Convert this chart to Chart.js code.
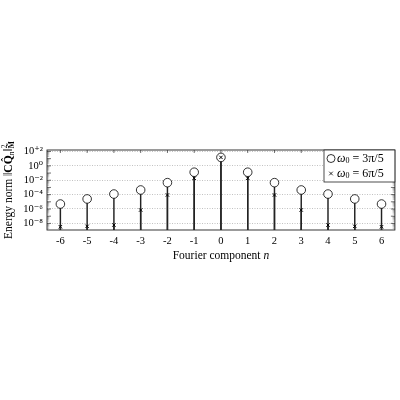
<!DOCTYPE html>
<html>
<head>
<meta charset="utf-8">
<script src="https://cdn.jsdelivr.net/npm/chart.js@4"></script>
<style>
  html, body { margin: 0; padding: 0; background: #fff; }
  #wrap { width: 400px; height: 400px; }
</style>
</head>
<body>
<div id="wrap"><canvas id="energy"></canvas></div>
<script>
// Fourier components and energy norms
var components = ['-6', '-5', '-4', '-3', '-2', '-1', '0', '1', '2', '3', '4', '5', '6'];
var energyW3 = [4.9e-6, 2.5e-5, 1.2e-4, 4.4e-4, 4.6e-3, 0.13, 15, 0.13, 4.6e-3, 4.4e-4, 1.2e-4, 2.5e-5, 4.9e-6];
var energyW6 = [3.4e-9, 3.9e-9, 5.9e-9, 7.2e-7, 8.9e-5, 0.019, 15, 0.019, 8.9e-5, 7.2e-7, 5.9e-9, 3.9e-9, 3.4e-9];
var seriesNames = ['3π/5', '6π/5'];
var yTickExponents = [2, 0, -2, -4, -6, -8];

var AXIS_MIN = 1.2e-9;
var AXIS_MAX = 1.6e2;
var F = '"Liberation Serif", "DejaVu Serif", serif';

var supMap = {'0':'⁰','1':'¹','2':'²','3':'³','4':'⁴','5':'⁵','6':'⁶','7':'⁷','8':'⁸','9':'⁹','-':'⁻','+':'⁺'};
function powLabel(e) {
    var s = (e > 0 ? '+' : '') + String(e);
    return '10' + s.split('').map(function(c){ return supMap[c]; }).join('');
}

function drawRuns(ctx, runs, x, y) {
    runs.forEach(function(r) {
        ctx.font = r.font;
        ctx.fillText(r.t, x, y + (r.dy || 0));
        if (!r.stay) x += ctx.measureText(r.t).width;
    });
}
function runsWidth(ctx, runs) {
    var w = 0;
    runs.forEach(function(r) {
        ctx.font = r.font;
        if (!r.stay) w += ctx.measureText(r.t).width;
    });
    return w;
}

// frame, inward ticks, axis titles and the legend box
var decor = {
    id: 'decor',
    afterDraw: function(chart) {
        var ctx = chart.ctx, a = chart.chartArea;
        var xs = chart.scales.x, ys = chart.scales.y;
        ctx.save();

        // minor/major log ticks on both sides
        for (var d = -10; d <= 2; d++) {
            for (var k = 1; k <= 9; k++) {
                var v = k * Math.pow(10, d);
                if (v < AXIS_MIN || v > AXIS_MAX) continue;
                var py = ys.getPixelForValue(v);
                var len = k === 1 ? 4 : 2.2;
                ctx.strokeStyle = k === 1 ? '#333' : '#aaa';
                ctx.lineWidth = 0.7;
                ctx.beginPath();
                ctx.moveTo(a.left, py); ctx.lineTo(a.left + len, py);
                ctx.moveTo(a.right, py); ctx.lineTo(a.right - len, py);
                ctx.stroke();
            }
        }
        // x ticks
        ctx.strokeStyle = '#333';
        ctx.lineWidth = 0.7;
        components.forEach(function(c, i) {
            var px = xs.getPixelForValue(i);
            ctx.beginPath();
            ctx.moveTo(px, a.bottom); ctx.lineTo(px, a.bottom - 3);
            ctx.moveTo(px, a.top); ctx.lineTo(px, a.top + 3);
            ctx.stroke();
        });

        // frame
        ctx.strokeStyle = '#222';
        ctx.lineWidth = 0.9;
        ctx.strokeRect(a.left, a.top, a.right - a.left, a.bottom - a.top);

        ctx.fillStyle = '#000';
        ctx.textBaseline = 'middle';
        ctx.textAlign = 'left';

        // x title
        var xt = [
            {t: 'Fourier component ', font: '11.5px ' + F},
            {t: 'n', font: 'italic 11.5px ' + F}
        ];
        drawRuns(ctx, xt, (a.left + a.right) / 2 - runsWidth(ctx, xt) / 2, 256);

        // y title (rotated)
        var yt = [
            {t: 'Energy norm ‖', font: '11.5px ' + F},
            {t: 'CQ̂', font: 'bold 11.5px ' + F},
            {t: 'n', font: 'italic 8px ' + F, dy: 2.5},
            {t: '‖', font: '11.5px ' + F},
            {t: '2', font: '7.5px ' + F, dy: -4, stay: true},
            {t: 'M̃', font: 'bold 7.5px ' + F, dy: 3.5}
        ];
        ctx.save();
        ctx.translate(9, (a.top + a.bottom) / 2);
        ctx.rotate(-Math.PI / 2);
        drawRuns(ctx, yt, -runsWidth(ctx, yt) / 2, 0);
        ctx.restore();

        // legend
        var lx = 324, ly = a.top, lw = a.right - lx, lh = 32;
        ctx.fillStyle = '#fff';
        ctx.fillRect(lx, ly, lw, lh);
        ctx.strokeStyle = '#222';
        ctx.lineWidth = 0.8;
        ctx.strokeRect(lx, ly, lw, lh);
        ctx.fillStyle = '#000';
        seriesNames.forEach(function(name, i) {
            var cy = ly + 8.5 + i * 15;
            var cx = lx + 7;
            ctx.strokeStyle = '#000';
            ctx.lineWidth = 0.8;
            ctx.beginPath();
            if (i === 0) {
                ctx.arc(cx, cy, 4, 0, Math.PI * 2);
            } else {
                ctx.moveTo(cx - 1.8, cy - 1.8); ctx.lineTo(cx + 1.8, cy + 1.8);
                ctx.moveTo(cx + 1.8, cy - 1.8); ctx.lineTo(cx - 1.8, cy + 1.8);
            }
            ctx.stroke();
            drawRuns(ctx, [
                {t: 'ω', font: 'italic 12px ' + F},
                {t: '0', font: '8px ' + F, dy: 2.5},
                {t: ' = ' + name, font: '12px ' + F}
            ], cx + 6, cy);
        });
        ctx.restore();
    }
};

var ctx = document.getElementById('energy');
var chart = new Chart(ctx, {
    type: 'bar',
    data: {
        labels: components,
        datasets: [
            {
                type: 'line',
                data: energyW6,
                showLine: false,
                pointStyle: 'crossRot',
                pointRadius: 2.4,
                borderColor: '#000',
                borderWidth: 1,
                order: 0
            },
            {
                type: 'line',
                data: energyW3,
                showLine: false,
                pointStyle: 'circle',
                pointRadius: 4.3,
                backgroundColor: '#fff',
                borderColor: '#000',
                borderWidth: 0.8,
                order: 1
            },
            {
                type: 'bar',
                data: energyW3.map(function(v){ return [AXIS_MIN, v]; }),
                backgroundColor: '#222',
                barThickness: 0.8,
                grouped: false,
                order: 2
            },
            {
                type: 'bar',
                data: energyW6.map(function(v){ return [AXIS_MIN, v]; }),
                backgroundColor: '#222',
                barThickness: 0.8,
                grouped: false,
                order: 3
            }
        ]
    },
    options: {
        responsive: true,
        maintainAspectRatio: false,
        animation: false,
        layout: { padding: { top: 150, right: 3, left: 0, bottom: 0 } },
        plugins: {
            legend: { display: false },
            tooltip: { enabled: false }
        },
        scales: {
            x: {
                type: 'category',
                offset: true,
                grid: { display: false, drawTicks: false },
                border: { display: false },
                ticks: { color: '#000', font: { family: F, size: 10.5 }, padding: 5 },
                afterFit: function(scale) { scale.height = 170; }
            },
            y: {
                type: 'logarithmic',
                min: AXIS_MIN,
                max: AXIS_MAX,
                afterBuildTicks: function(scale) {
                    scale.ticks = yTickExponents.map(function(e){ return { value: Math.pow(10, e) }; });
                },
                ticks: {
                    color: '#000',
                    font: { family: F, size: 10.5 },
                    padding: 4,
                    callback: function(value) {
                        return powLabel(Math.round(Math.log10(value)));
                    }
                },
                grid: { color: '#999', lineWidth: 0.6, drawTicks: false },
                border: { display: false, dash: [1, 1.5] },
                afterFit: function(scale) { scale.width = 47; }
            }
        }
    },
    plugins: [decor]
});
</script>
</body>
</html>
